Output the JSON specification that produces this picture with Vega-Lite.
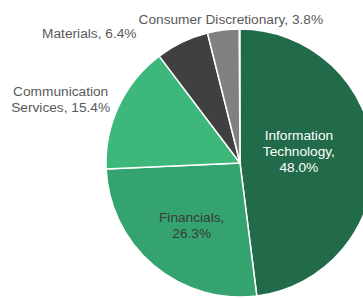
{
  "$schema": "https://vega.github.io/schema/vega-lite/v6.json",
  "width": 480,
  "height": 326,
  "padding": 0,
  "autosize": "none",
  "background": "white",
  "view": {"stroke": null},
  "config": {"text": {"font": "Liberation Sans", "fontSize": 13.7}},
  "data": {
    "values": [
      {"sector": "Information Technology", "pct": 48.0, "rank": 1, "label": ["Information", "Technology,", "48.0%"]},
      {"sector": "Financials", "pct": 26.3, "rank": 2, "label": ["Financials,", "26.3%"]},
      {"sector": "Communication Services", "pct": 15.4, "rank": 3, "label": ["Communication", "Services, 15.4%"]},
      {"sector": "Materials", "pct": 6.4, "rank": 4, "label": ["Materials, 6.4%"]},
      {"sector": "Consumer Discretionary", "pct": 3.8, "rank": 5, "label": ["Consumer Discretionary, 3.8%"]}
    ]
  },
  "encoding": {
    "theta": {"field": "pct", "type": "quantitative", "stack": true, "scale": {"domain": [0, 100]}},
    "order": {"field": "rank", "type": "quantitative"}
  },
  "layer": [
    {
      "mark": {"type": "arc", "outerRadius": 134, "stroke": "white", "strokeWidth": 1.5},
      "encoding": {
        "color": {
          "field": "sector", "type": "nominal", "legend": null,
          "scale": {
            "domain": ["Information Technology", "Financials", "Communication Services", "Materials", "Consumer Discretionary"],
            "range": ["#226B4A", "#34A36F", "#3DB87A", "#404040", "#808080"]
          }
        }
      }
    },
    {
      "mark": {"type": "text", "radius": 60, "dx": -1, "dy": -23, "color": "white", "lineHeight": 16, "align": "center", "baseline": "middle"},
      "encoding": {"text": {"condition": {"test": "datum.rank == 1", "field": "label"}, "value": ""}}
    },
    {
      "mark": {"type": "text", "radius": 78, "dx": 2, "dy": -5, "color": "#3a3a3a", "lineHeight": 16, "align": "center", "baseline": "middle"},
      "encoding": {"text": {"condition": {"test": "datum.rank == 2", "field": "label"}, "value": ""}}
    },
    {
      "mark": {"type": "text", "radius": 175, "dx": -21, "dy": 4, "color": "#595959", "lineHeight": 16, "align": "center", "baseline": "middle"},
      "encoding": {"text": {"condition": {"test": "datum.rank == 3", "field": "label"}, "value": ""}}
    },
    {
      "mark": {"type": "text", "radius": 150, "dx": -86, "dy": 6, "color": "#595959", "lineHeight": 16, "align": "center", "baseline": "middle"},
      "encoding": {"text": {"condition": {"test": "datum.rank == 4", "field": "label"}, "value": ""}}
    },
    {
      "mark": {"type": "text", "radius": 145, "dx": 9, "dy": 1, "color": "#595959", "lineHeight": 16, "align": "center", "baseline": "middle"},
      "encoding": {"text": {"condition": {"test": "datum.rank == 5", "field": "label"}, "value": ""}}
    }
  ]
}
